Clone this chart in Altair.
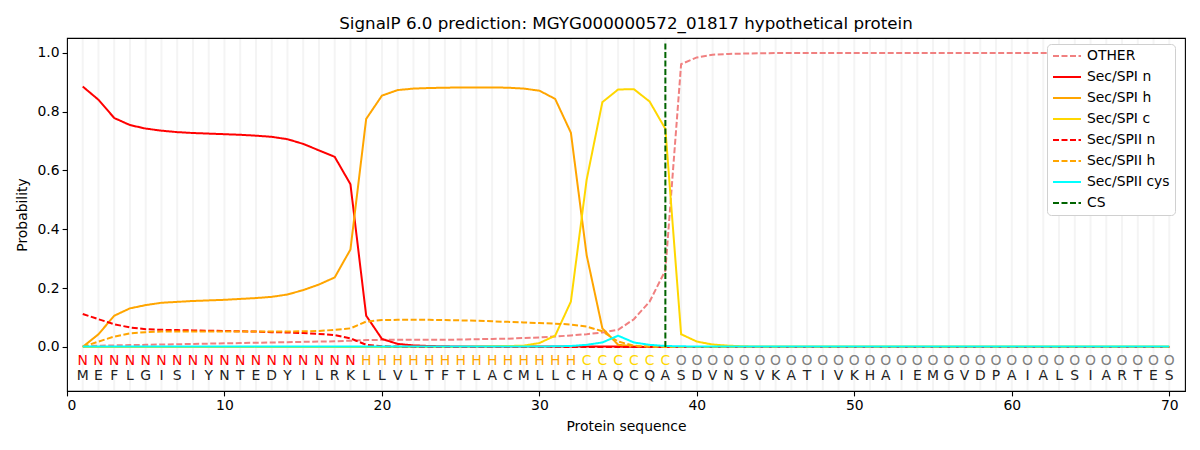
import altair as alt
import pandas as pd

sequence = list("MEFLGISIYNTEDYILRKLLVLTFTLACMLLCHAQCQASDVNSVKATIVKHAIEMGVDPAIALSIARTES")
region_labels = list("N" * 18 + "H" * 14 + "C" * 6 + "O" * 32)
positions = list(range(1, 71))
cs_position = 38

other = [0.003, 0.004, 0.005, 0.006, 0.007, 0.008, 0.009, 0.010, 0.011, 0.012,
         0.013, 0.014, 0.015, 0.016, 0.017, 0.018, 0.019, 0.021, 0.023, 0.024,
         0.024, 0.024, 0.024, 0.024, 0.025, 0.026, 0.027, 0.028, 0.030, 0.032,
         0.035, 0.039, 0.043, 0.049, 0.058, 0.094, 0.154, 0.260, 0.961, 0.984,
         0.993, 0.996, 0.997, 0.998, 0.999] + [0.999] * 25
spi_n = [0.885, 0.840, 0.778, 0.754, 0.742, 0.735, 0.730, 0.727, 0.725, 0.723,
         0.721, 0.718, 0.714, 0.706, 0.690, 0.668, 0.646, 0.553, 0.106, 0.027,
         0.010, 0.005, 0.003, 0.002, 0.001, 0.001, 0.001, 0.001, 0.001, 0.001,
         0.001, 0.001, 0.001, 0.001, 0.001] + [0.0] * 35
spi_h = [0.0, 0.043, 0.106, 0.131, 0.142, 0.150, 0.153, 0.156, 0.158, 0.160,
         0.163, 0.166, 0.170, 0.178, 0.193, 0.212, 0.236, 0.331, 0.775, 0.854,
         0.873, 0.878, 0.880, 0.881, 0.882, 0.882, 0.882, 0.881, 0.878, 0.871,
         0.843, 0.728, 0.312, 0.063, 0.007, 0.002] + [0.0] * 34
spi_c = [0.0] * 25 + [0.001, 0.002, 0.003, 0.004, 0.013, 0.038, 0.154, 0.568, 0.832,
         0.875, 0.876, 0.834, 0.741, 0.043, 0.018, 0.008, 0.004, 0.002] + [0.001] * 27
spii_n = [0.112, 0.094, 0.077, 0.066, 0.060, 0.058, 0.057, 0.056, 0.055, 0.054,
          0.053, 0.052, 0.050, 0.049, 0.047, 0.044, 0.040, 0.029, 0.007, 0.002,
          0.001] + [0.0] * 49
spii_h = [0.0, 0.018, 0.035, 0.046, 0.050, 0.052, 0.052, 0.052, 0.052, 0.052,
          0.052, 0.052, 0.052, 0.052, 0.053, 0.054, 0.058, 0.063, 0.086, 0.091,
          0.092, 0.092, 0.092, 0.091, 0.090, 0.089, 0.087, 0.085, 0.083, 0.081,
          0.079, 0.076, 0.069, 0.053, 0.018, 0.004, 0.001] + [0.0] * 33
spii_cys = [0.001] * 30 + [0.002, 0.003, 0.007, 0.015, 0.038, 0.015, 0.007, 0.003,
                           0.002] + [0.001] * 31

series_names = ["OTHER", "Sec/SPI n", "Sec/SPI h", "Sec/SPI c",
                "Sec/SPII n", "Sec/SPII h", "Sec/SPII cys", "CS"]
series_values = [other, spi_n, spi_h, spi_c, spii_n, spii_h, spii_cys]
series_colors = ["#F08080", "#FF0000", "#FFA500", "#FFD700",
                 "#FF0000", "#FFA500", "#00FFFF", "#006400"]
series_dashes = [[6, 2.5], [1, 0], [1, 0], [1, 0], [6, 2.5], [6, 2.5], [1, 0], [6, 2.5]]
label_color_map = {"N": "#FF0000", "H": "#FFA500", "C": "#FFD700", "O": "#808080"}

rows = []
for name, vals in zip(series_names[:-1], series_values):
    for p, v in zip(positions, vals):
        rows.append({"pos": p, "prob": v, "series": name})
lines_df = pd.DataFrame(rows)
seq_df = pd.DataFrame({"pos": positions, "aa": sequence, "lab": region_labels})
cs_df = pd.DataFrame({"pos": [cs_position], "series": ["CS"]})
grid_df = pd.DataFrame({"pos": positions})

FONT = "DejaVu Sans"
xscale = alt.Scale(domain=[0, 71], nice=False, zero=False)
yscale = alt.Scale(domain=[-0.15, 1.05], nice=False, zero=False)
color_scale = alt.Scale(domain=series_names, range=series_colors)
dash_scale = alt.Scale(domain=series_names, range=series_dashes)

legend = alt.Legend(
    title=None, orient="none", legendX=980, legendY=6, symbolType="stroke",
    symbolSize=784, symbolStrokeWidth=2, labelFontSize=13.9, labelFont=FONT,
    labelColor="black", fillColor="white", strokeColor="#d0d0d0", cornerRadius=4,
    padding=5, rowPadding=7, labelOffset=5, clipHeight=14, values=series_names,
)

xaxis = alt.Axis(values=[0, 10, 20, 30, 40, 50, 60, 70], format="d", grid=False,
                 title="Protein sequence")
yaxis = alt.Axis(values=[0, 0.2, 0.4, 0.6, 0.8, 1.0], format=".1f", grid=False,
                 title="Probability")

grid = alt.Chart(grid_df).mark_rule(color="#f4f4f4", strokeWidth=2).encode(
    x=alt.X("pos:Q", scale=xscale, axis=xaxis),
    y=alt.datum(-0.147, scale=yscale),
    y2=alt.datum(1.047),
)

lines = alt.Chart(lines_df).mark_line(strokeWidth=2).encode(
    x=alt.X("pos:Q", scale=xscale, axis=xaxis),
    y=alt.Y("prob:Q", scale=yscale, axis=yaxis),
    color=alt.Color("series:N", scale=color_scale, legend=legend),
    strokeDash=alt.StrokeDash("series:N", scale=dash_scale, legend=legend),
    detail="series:N",
)

cs_rule = alt.Chart(cs_df).mark_rule(strokeWidth=2).encode(
    x=alt.X("pos:Q", scale=xscale),
    y=alt.datum(0, scale=yscale),
    y2=alt.datum(1.035),
    color=alt.Color("series:N", scale=color_scale, legend=legend),
    strokeDash=alt.StrokeDash("series:N", scale=dash_scale, legend=legend),
)

lab_text = alt.Chart(seq_df).mark_text(fontSize=13.9, font=FONT, baseline="middle").encode(
    x=alt.X("pos:Q", scale=xscale),
    y=alt.datum(-0.047, scale=yscale),
    text="lab:N",
    fill=alt.Fill("lab:N", scale=alt.Scale(domain=list(label_color_map.keys()),
                                           range=list(label_color_map.values())),
                  legend=None),
)

aa_text = alt.Chart(seq_df).mark_text(fontSize=13.9, font=FONT, baseline="middle",
                                      color="#222222").encode(
    x=alt.X("pos:Q", scale=xscale),
    y=alt.datum(-0.098, scale=yscale),
    text="aa:N",
)

chart = alt.layer(grid, lines, cs_rule, lab_text, aa_text).properties(
    width=1118, height=353,
    autosize=alt.AutoSizeParams(type="none"),
    padding={"left": 59, "top": 30, "right": 7, "bottom": 51},
    title=alt.TitleParams(
        "SignalP 6.0 prediction: MGYG000000572_01817 hypothetical protein",
        fontSize=16.7, font=FONT, fontWeight="normal", color="black",
        anchor="middle", offset=5,
    ),
).configure_view(stroke="black", strokeWidth=1.1).configure_axis(
    labelFont=FONT, labelFontSize=13.9, labelColor="black", titleFont=FONT,
    titleFontSize=13.9, titleColor="black", titleFontWeight="normal",
    domain=False, tickColor="black", tickSize=4.9, tickWidth=1.1, labelPadding=3,
).configure_axisX(titlePadding=7).configure_axisY(titlePadding=8)

chart.save("out.html", embed_options={"renderer": "svg", "actions": False})
